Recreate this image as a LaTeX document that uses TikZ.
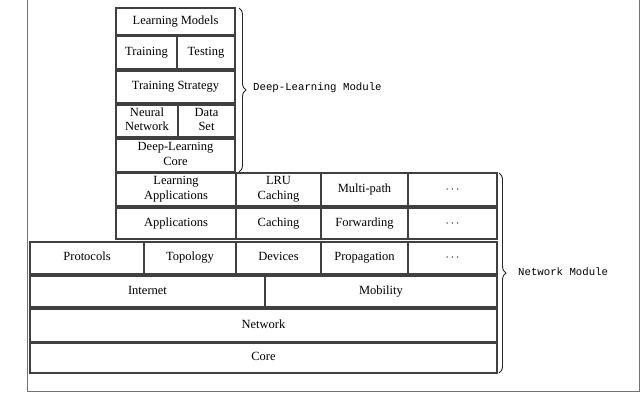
\documentclass[tikz,border=0pt]{standalone}
\usepackage{fontspec}
\setmainfont{Liberation Serif}
\newfontfamily\modfont{Liberation Mono}
\usetikzlibrary{
        decorations.pathreplacing,
        positioning
    }
\newcommand\cellstrut{\rule[-3.6pt]{0pt}{12.8pt}}
\tikzset{x=1pt,y=-1pt}
\tikzset{cell/.style={draw=black!75,line width=1.2pt,inner sep=0pt,outer sep=0pt,
        align=center,font=\fontsize{12.5}{14.5}\selectfont,
        execute at begin node=\cellstrut,execute at end node=\cellstrut}}
\tikzset{modbrace/.style={decorate,decoration={brace,amplitude=7pt},line width=0.9pt,draw=black!85}}
\tikzset{modlabel/.style={anchor=west,inner sep=0pt,font=\modfont\fontsize{10.7}{12}\selectfont}}

\begin{document}
\begin{tikzpicture}[]
                    \useasboundingbox (0,0) rectangle (640,406);
                    % outer frame
                    \draw[black!55,line width=0.9pt] (27,0) -- (27,391) -- (639,391) -- (639,0);
                    % deep-learning module
                    \node[cell,anchor=north west,minimum width=119,minimum height=27] (lm) at (116,8) {Learning Models};
                    \node[cell,anchor=north west,minimum width=61,minimum height=33] (tr) at (116,36) {Training};
                    \node[cell,minimum width=58,minimum height=33] (te) [right=0pt of tr] {Testing};
                    \node[cell,anchor=north west,minimum width=119,minimum height=32] (ts) at (116,71) {Training Strategy};
                    \node[cell,anchor=north west,minimum width=62,minimum height=32] (nn) at (116,105) {Neural\\Network};
                    \node[cell,minimum width=57,minimum height=32] (ds) [right=0pt of nn] {Data\\Set};
                    \node[cell,anchor=north west,minimum width=119,minimum height=33] (dlc) at (116,139) {Deep-Learning\\Core};
                    % network module
                    \node[cell,anchor=north west,minimum width=120,minimum height=33] (la) at (116,173) {Learning\\Applications};
                    \node[cell,minimum width=85,minimum height=33] (lru) [right=0pt of la] {LRU\\Caching};
                    \node[cell,minimum width=87,minimum height=33] (mp) [right=0pt of lru] {Multi-path};
                    \node[cell,minimum width=89,minimum height=33] (da) [right=0pt of mp] {$\cdots$};
                    \node[cell,anchor=north west,minimum width=120,minimum height=31] (ap) at (116,208) {Applications};
                    \node[cell,minimum width=85,minimum height=31] (ca) [right=0pt of ap] {Caching};
                    \node[cell,minimum width=87,minimum height=31] (fw) [right=0pt of ca] {Forwarding};
                    \node[cell,minimum width=89,minimum height=31] (db) [right=0pt of fw] {$\cdots$};
                    \node[cell,anchor=north west,minimum width=114,minimum height=32] (pr) at (30,242) {Protocols};
                    \node[cell,minimum width=92,minimum height=32] (to) [right=0pt of pr] {Topology};
                    \node[cell,minimum width=85,minimum height=32] (de) [right=0pt of to] {Devices};
                    \node[cell,minimum width=87,minimum height=32] (pg) [right=0pt of de] {Propagation};
                    \node[cell,minimum width=89,minimum height=32] (dc) [right=0pt of pg] {$\cdots$};
                    \node[cell,anchor=north west,minimum width=235,minimum height=31] (in) at (30,276) {Internet};
                    \node[cell,minimum width=232,minimum height=31] (mo) [right=0pt of in] {Mobility};
                    \node[cell,anchor=north west,minimum width=467,minimum height=33] (nw) at (30,309) {Network};
                    \node[cell,anchor=north west,minimum width=467,minimum height=30] (co) at (30,343) {Core};
                    % braces
                    \draw[modbrace] ([xshift=4]lm.north east) -- ([xshift=4]dlc.south east);
                    \node[modlabel] (dlm) at (253,88) {Deep-Learning Module};
                    \draw[modbrace] ([xshift=2]da.north east) -- ([xshift=2]co.south east);
                    \node[modlabel] (nwm) at (518,272) {Network Module};
                \end{tikzpicture}
\end{document}
